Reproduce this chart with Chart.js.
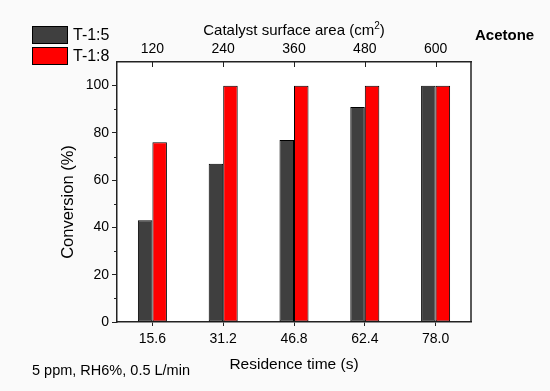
<!DOCTYPE html>
<html>
<head>
<meta charset="utf-8">
<script src="https://cdn.jsdelivr.net/npm/chart.js@4.4.0/dist/chart.umd.min.js"></script>
<style>
  html, body { margin: 0; padding: 0; background: #fafafa; }
  canvas { display: block; }
</style>
</head>
<body>
<canvas id="chart" width="550" height="391"></canvas>
<script>
// data
const residenceTimes = ['15.6', '31.2', '46.8', '62.4', '78.0'];
const surfaceAreas = ['120', '240', '360', '480', '600'];
const seriesNames = ['T-1:5', 'T-1:8'];
const conversionT15 = [43, 67, 77, 91, 100];
const conversionT18 = [76, 100, 100, 100, 100];
const yMajorTicks = [0, 20, 40, 60, 80, 100];
const yMinorTicks = [10, 30, 50, 70, 90];

const FONT = "'Liberation Sans', Arial, sans-serif";
const colors = ['#3f3f3f', '#ff0000'];

// frame, inward top ticks, minor ticks, titles, legend and notes
const decorPlugin = {
    id: 'decor',
    beforeDraw(chart) {
        const ctx = chart.ctx;
        const a = chart.chartArea;
        ctx.save();
        ctx.fillStyle = '#fafafa';
        ctx.fillRect(0, 0, chart.width, chart.height);
        ctx.fillStyle = '#ffffff';
        ctx.fillRect(a.left, a.top, a.right - a.left, a.bottom - a.top);
        ctx.restore();
    },
    afterDraw(chart) {
        const ctx = chart.ctx;
        const a = chart.chartArea;
        const x2 = chart.scales.x2;
        const y = chart.scales.y;
        ctx.save();
        ctx.strokeStyle = '#222';
        ctx.lineWidth = 1.5;

        // right border
        ctx.beginPath();
        ctx.moveTo(a.right, a.top);
        ctx.lineTo(a.right, a.bottom);
        ctx.stroke();

        // top axis ticks pointing into the plot
        ctx.lineWidth = 1;
        surfaceAreas.forEach((_, i) => {
            const px = Math.round(x2.getPixelForValue(i)) + 0.5;
            ctx.beginPath();
            ctx.moveTo(px, a.top);
            ctx.lineTo(px, a.top + 5);
            ctx.stroke();
        });

        // y minor ticks
        yMinorTicks.forEach(v => {
            const py = Math.round(y.getPixelForValue(v)) + 0.5;
            ctx.beginPath();
            ctx.moveTo(a.left - 3, py);
            ctx.lineTo(a.left, py);
            ctx.stroke();
        });

        ctx.fillStyle = '#000';
        ctx.textBaseline = 'middle';
        const cx = (a.left + a.right) / 2;

        // top axis title with superscript
        const t1 = 'Catalyst surface area (cm';
        const t2 = ')';
        ctx.font = '15px ' + FONT;
        const w1 = ctx.measureText(t1).width;
        const w3 = ctx.measureText(t2).width;
        ctx.font = '10px ' + FONT;
        const w2 = ctx.measureText('2').width;
        const sx = cx - (w1 + w2 + w3) / 2;
        ctx.textAlign = 'left';
        ctx.font = '15px ' + FONT;
        ctx.fillText(t1, sx, 31);
        ctx.font = '10px ' + FONT;
        ctx.fillText('2', sx + w1, 26);
        ctx.font = '15px ' + FONT;
        ctx.fillText(t2, sx + w1 + w2, 31);

        // bottom axis title
        ctx.textAlign = 'center';
        ctx.font = '15.5px ' + FONT;
        ctx.fillText('Residence time (s)', cx, 365);

        // y axis title
        ctx.save();
        ctx.translate(68, (a.top + a.bottom) / 2 + 10);
        ctx.rotate(-Math.PI / 2);
        ctx.font = '16.5px ' + FONT;
        ctx.fillText('Conversion (%)', 0, 0);
        ctx.restore();

        // label in the corner
        ctx.textAlign = 'left';
        ctx.font = 'bold 15px ' + FONT;
        ctx.fillText('Acetone', 475, 36);

        // conditions note
        ctx.font = '14.5px ' + FONT;
        ctx.fillText('5 ppm, RH6%, 0.5 L/min', 32, 371);

        // legend
        const boxes = [[26, 44], [47, 65]];
        chart.data.datasets.forEach((ds, i) => {
            const [t, b] = boxes[i];
            ctx.fillStyle = ds.backgroundColor;
            ctx.fillRect(32, t, 36, b - t);
            ctx.strokeStyle = '#000';
            ctx.lineWidth = 1;
            ctx.strokeRect(32.5, t + 0.5, 35, b - t - 1);
            ctx.fillStyle = '#000';
            ctx.font = '16px ' + FONT;
            ctx.fillText(ds.label, 73, (t + b) / 2 + 1);
        });
        ctx.restore();
    }
};

new Chart(document.getElementById('chart'), {
    type: 'bar',
    data: {
        labels: residenceTimes,
        datasets: [
            {
                label: seriesNames[0],
                data: conversionT15,
                backgroundColor: colors[0],
                borderColor: '#000',
                borderWidth: 1,
                borderSkipped: false,
                categoryPercentage: 0.41,
                barPercentage: 1
            },
            {
                label: seriesNames[1],
                data: conversionT18,
                backgroundColor: colors[1],
                borderColor: '#000',
                borderWidth: 1,
                borderSkipped: false,
                categoryPercentage: 0.41,
                barPercentage: 1
            }
        ]
    },
    options: {
        responsive: false,
        animation: false,
        layout: { padding: { left: 0, right: 79, top: 0, bottom: 0 } },
        plugins: {
            legend: { display: false },
            tooltip: { enabled: false }
        },
        scales: {
            x: {
                position: 'bottom',
                offset: true,
                grid: { offset: false, drawOnChartArea: false, tickLength: 4, tickColor: '#222', tickWidth: 1 },
                border: { color: '#222', width: 1.5 },
                ticks: { color: '#000', font: { family: FONT, size: 14 }, padding: 5, maxRotation: 0 },
                afterFit: s => { s.height = 69; }
            },
            x2: {
                type: 'category',
                labels: surfaceAreas,
                position: 'top',
                offset: true,
                grid: { offset: false, drawOnChartArea: false, drawTicks: false },
                border: { color: '#222', width: 1.5 },
                ticks: { color: '#000', font: { family: FONT, size: 14 }, padding: 4, maxRotation: 0 },
                afterFit: s => { s.height = 62; }
            },
            y: {
                min: 0,
                max: 110,
                grid: { drawOnChartArea: false, tickLength: 5, tickColor: '#222', tickWidth: 1 },
                border: { color: '#222', width: 1.5 },
                ticks: { color: '#000', font: { family: FONT, size: 14 }, padding: 3 },
                afterBuildTicks: s => { s.ticks = yMajorTicks.map(v => ({ value: v })); },
                afterFit: s => { s.width = 117; }
            }
        }
    },
    plugins: [decorPlugin]
});
</script>
</body>
</html>
